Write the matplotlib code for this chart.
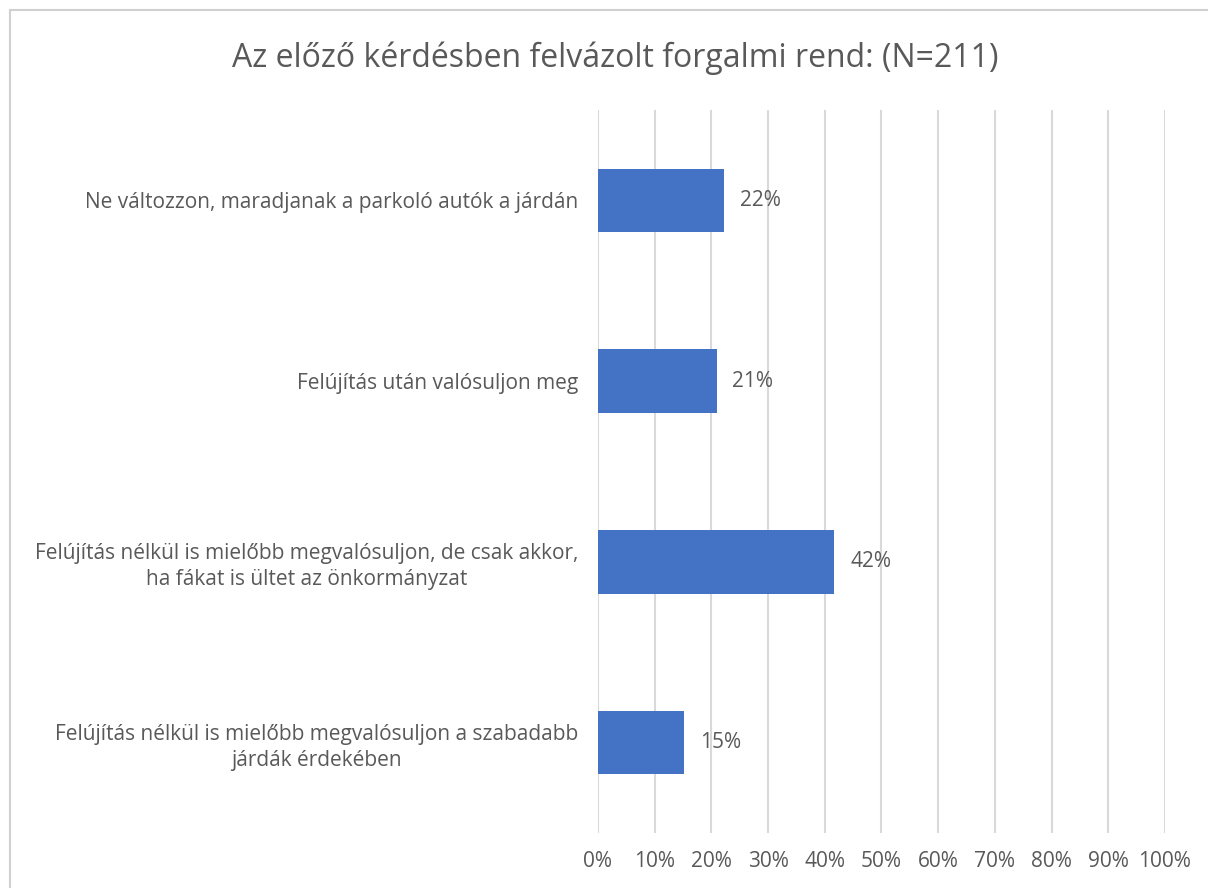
import matplotlib.pyplot as plt
from matplotlib.patches import Rectangle
from matplotlib.ticker import FuncFormatter

# Answers, top to bottom as shown in the chart
categories = [
    "Ne változzon, maradjanak a parkoló autók a járdán",
    "Felújítás után valósuljon meg",
    "Felújítás nélkül is mielőbb megvalósuljon, de csak akkor,\nha fákat is ültet az önkormányzat",
    "Felújítás nélkül is mielőbb megvalósuljon a szabadabb\njárdák érdekében",
]
shares = [22.3, 20.9, 41.7, 15.2]
pct_labels = ["22%", "21%", "42%", "15%"]
x_ticks = [0, 10, 20, 30, 40, 50, 60, 70, 80, 90, 100]

title = "Az előző kérdésben felvázolt forgalmi rend: (N=211)"

TEXT = "#595959"
GRID = "#d9d9d9"
BAR = "#4472c4"

plt.rcParams['font.family'] = ['Open Sans', 'DejaVu Sans']

fig = plt.figure(figsize=(12.08, 8.88), dpi=100)

# chart frame (cropped at the right and bottom in the original)
fig.patches.append(Rectangle((10 / 1208, -0.1), 1.2, 1.1 - 10 / 888,
                             transform=fig.transFigure, fill=False,
                             edgecolor="#d0d0d0", linewidth=1.5))

ax = fig.add_axes([598 / 1208, 1 - 833 / 888, (1165 - 598) / 1208, (833 - 110) / 888])

y = range(len(categories))
ax.barh(y, shares, height=0.35, color=BAR, zorder=3)
for yi, v, lab in zip(y, shares, pct_labels):
    ax.text(v + 2.8, yi, lab, va="center", ha="left", fontsize=15, color=TEXT)

ax.set_xlim(0, 100)
ax.set_ylim(len(categories) - 0.5, -0.5)
ax.set_xticks(x_ticks)
ax.xaxis.set_major_formatter(FuncFormatter(lambda v, _: f"{v:.0f}%"))
ax.set_yticks(list(y))
ax.set_yticklabels(categories, multialignment="center", linespacing=1.3)
ax.tick_params(axis="both", length=0, labelsize=15, labelcolor=TEXT)
ax.tick_params(axis="y", pad=14)
ax.tick_params(axis="x", pad=13)
ax.grid(axis="x", color=GRID, linewidth=1.5, zorder=0)
for s in ax.spines.values():
    s.set_visible(False)

fig.text(615 / 1208, 1 - 58 / 888, title, ha="center", va="center",
         fontsize=23, color=TEXT)

fig.savefig("out.png", dpi=100)
